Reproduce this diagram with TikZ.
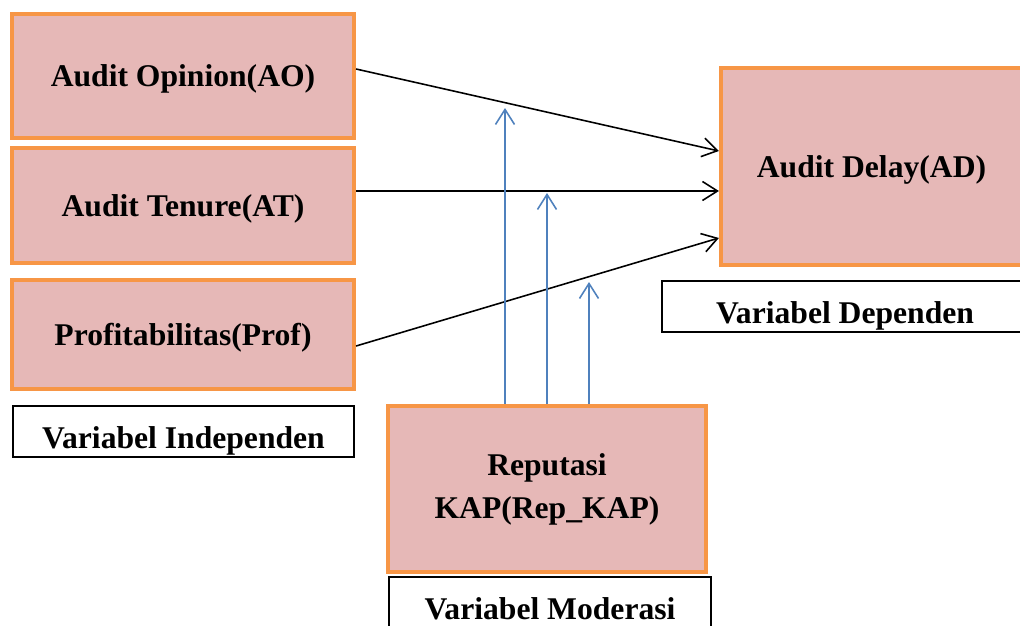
\documentclass[tikz,border=0pt]{standalone}
\usepackage{fontspec}
\setmainfont{Liberation Serif}
\usetikzlibrary{arrows.meta}

\definecolor{boxfill}{HTML}{E6B8B7}
\definecolor{boxline}{HTML}{F79646}
\definecolor{modline}{HTML}{4F81BD}

\tikzset{
  varbox/.style={draw=boxline, fill=boxfill, line width=2.4pt, align=center,
    font=\bfseries\fontsize{18}{24.5}\selectfont},
  oneline/.style={text depth=0pt},
  labelbox/.style={draw=black, line width=1.1pt, minimum height=1.02cm,
    inner ysep=0pt, text height=19pt, text depth=0pt,
    font=\bfseries\fontsize{18}{22}\selectfont},
  link/.style={line width=0.9pt, -{Straight Barb[length=3mm,width=3.8mm]}},
}

\begin{document}
\begin{tikzpicture}[x=0.02cm, y=-0.02cm]
  \useasboundingbox (0,0) rectangle (1020,625);
  \clip (0,0) rectangle (1020,625);

  % Независимые переменные
  \node[varbox, oneline, minimum width=6.84cm, minimum height=2.48cm] (AO) at (183,76) {Audit Opinion(AO)};
  \node[varbox, oneline, minimum width=6.84cm, minimum height=2.3cm] (AT) at (183,205.5) {Audit Tenure(AT)};
  \node[varbox, oneline, minimum width=6.84cm, minimum height=2.18cm] (Prof) at (183,334.5) {Profitabilitas(Prof)};
  \node[labelbox, minimum width=6.82cm] (LIndep) at (183.5,431.5) {Variabel Independen};

  % Зависимая переменная
  \node[varbox, oneline, minimum width=6.02cm, minimum height=3.94cm] (AD) at (871.5,166.5) {Audit Delay(AD)};
  \node[labelbox, minimum width=7.32cm] (LDep) at (845,306.5) {Variabel Dependen};

  % Модерирующая переменная
  \node[varbox, minimum width=6.36cm, minimum height=3.32cm] (Rep) at (547,489) {Reputasi\\KAP(Rep\_KAP)};
  \node[labelbox, minimum width=6.44cm] (LMod) at (550,602.5) {Variabel Moderasi};

  % Прямые связи
  \draw[link, black] ([yshift=0.14cm]AO.east) -- ([yshift=0.31cm]AD.west);
  \draw[link, black] ([yshift=0.29cm]AT.east) -- ([yshift=-0.49cm]AD.west);
  \draw[link, black] ([yshift=-0.23cm]Prof.east) -- ([yshift=-1.43cm]AD.west);

  % Концы стрелок модератора
  \coordinate (m1) at (505,108);
  \coordinate (m2) at (547,193);
  \coordinate (m3) at (589,282);

  \draw[link, modline] (Rep.north -| m1) -- (m1);
  \draw[link, modline] (Rep.north -| m2) -- (m2);
  \draw[link, modline] (Rep.north -| m3) -- (m3);
\end{tikzpicture}
\end{document}
